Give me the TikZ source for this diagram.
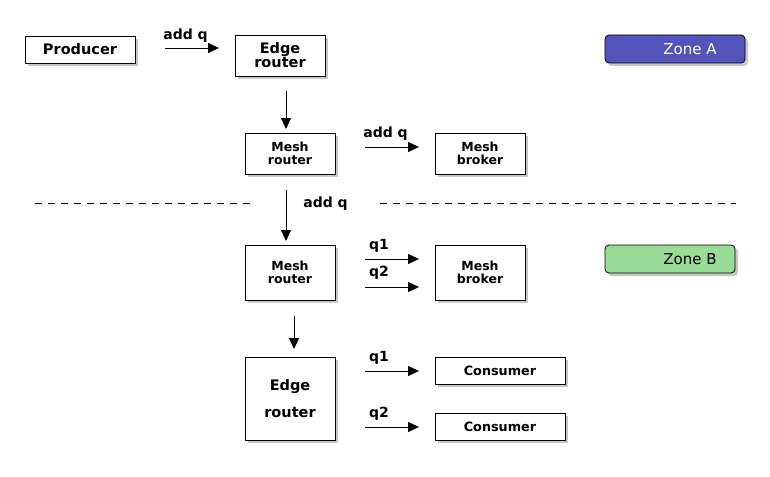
\documentclass[tikz,border=0pt]{standalone}
\usepackage{fontspec}
\setmainfont{DejaVu Sans}
\usetikzlibrary{arrows.meta,shadows}
\definecolor{zoneA}{RGB}{83,83,185}
\definecolor{zoneB}{RGB}{152,220,152}
\begin{document}
\begin{tikzpicture}[x=1pt,y=-1pt,
  box/.style={draw,line width=0.8pt,fill=white,inner sep=0pt,align=center,
    drop shadow={shadow xshift=3pt,shadow yshift=-3pt,fill=black!22,opacity=1}},
  big/.style={font=\fontsize{14.5}{14}\bfseries\selectfont},
  mid/.style={font=\fontsize{12.5}{13}\bfseries\selectfont},
  small/.style={font=\fontsize{12.8}{12}\bfseries\selectfont},
  zone/.style={draw,line width=0.8pt,rounded corners=4pt,inner sep=0pt,
    minimum height=28pt,font=\fontsize{15}{16}\selectfont,
    drop shadow={shadow xshift=3pt,shadow yshift=-3pt,fill=black!22,opacity=1}},
  arr/.style={line width=0.9pt,-{Triangle[length=11pt,width=10pt]}},
  lbl/.style={inner sep=0pt,font=\fontsize{14}{14}\bfseries\selectfont},
  sep/.style={line width=0.8pt,dash pattern=on 7pt off 6pt}]
\useasboundingbox[fill=white] (0,0) rectangle (770,476);

% boxes
\node[box,big,minimum width=110pt,minimum height=27pt] (prod) at (80,49.5) {Producer};
\node[box,big,minimum width=90pt,minimum height=41pt] (er1) at (280,55.5) {Edge\\router};
\node[box,mid,minimum width=90pt,minimum height=41pt] (mr1) at (290,153.5) {Mesh\\router};
\node[box,mid,minimum width=90pt,minimum height=41pt] (mb1) at (480,153.5) {Mesh\\broker};
\node[box,mid,minimum width=90pt,minimum height=55pt] (mr2) at (290,272.5) {Mesh\\router};
\node[box,mid,minimum width=90pt,minimum height=55pt] (mb2) at (480,272.5) {Mesh\\broker};
\node[box,big,minimum width=90pt,minimum height=83pt] (er2) at (290,398.5) {Edge\\[13pt]router};
\node[box,small,minimum width=130pt,minimum height=27pt] (c1) at (500,370.5) {Consumer};
\node[box,small,minimum width=130pt,minimum height=27pt] (c2) at (500,426.5) {Consumer};

% zones
\node[zone,fill=zoneA,text=white,minimum width=140pt] (za) at (675,49) {\hspace*{30pt}Zone A};
\node[zone,fill=zoneB,minimum width=130pt] (zb) at (670,259) {\hspace*{40pt}Zone B};

% arrow end points
\coordinate (a1s) at (165,48);  \coordinate (a1e) at (219,48);
\coordinate (v1s) at (286,91);  \coordinate (v1e) at (286,129);
\coordinate (a2s) at (365,147); \coordinate (a2e) at (419,147);
\coordinate (v2s) at (286,190); \coordinate (v2e) at (286,241);
\coordinate (a3s) at (365,259); \coordinate (a3e) at (419,259);
\coordinate (a4s) at (365,287); \coordinate (a4e) at (419,287);
\coordinate (v3s) at (294,316); \coordinate (v3e) at (294,349);
\coordinate (a5s) at (365,371); \coordinate (a5e) at (419,371);
\coordinate (a6s) at (365,427); \coordinate (a6e) at (419,427);

\draw[arr] (a1s) -- (a1e);
\draw[arr] (v1s) -- (v1e);
\draw[arr] (a2s) -- (a2e);
\draw[arr] (v2s) -- (v2e);
\draw[arr] (a3s) -- (a3e);
\draw[arr] (a4s) -- (a4e);
\draw[arr] (v3s) -- (v3e);
\draw[arr] (a5s) -- (a5e);
\draw[arr] (a6s) -- (a6e);

% labels
\node[lbl] (l1) at (185.5,36) {add q};
\node[lbl] (l2) at (385.5,134) {add q};
\node[lbl] (l3) at (325.5,204) {add q};
\node[lbl] (l4) at (379,246) {q1};
\node[lbl] (l5) at (379,273) {q2};
\node[lbl] (l6) at (379,358) {q1};
\node[lbl] (l7) at (379,414) {q2};

% zone separator
\coordinate (d1s) at (35,203);  \coordinate (d1e) at (250,203);
\coordinate (d2s) at (380,203); \coordinate (d2e) at (736,203);
\draw[sep] (d1s) -- (d1e);
\draw[sep] (d2s) -- (d2e);
\end{tikzpicture}
\end{document}
